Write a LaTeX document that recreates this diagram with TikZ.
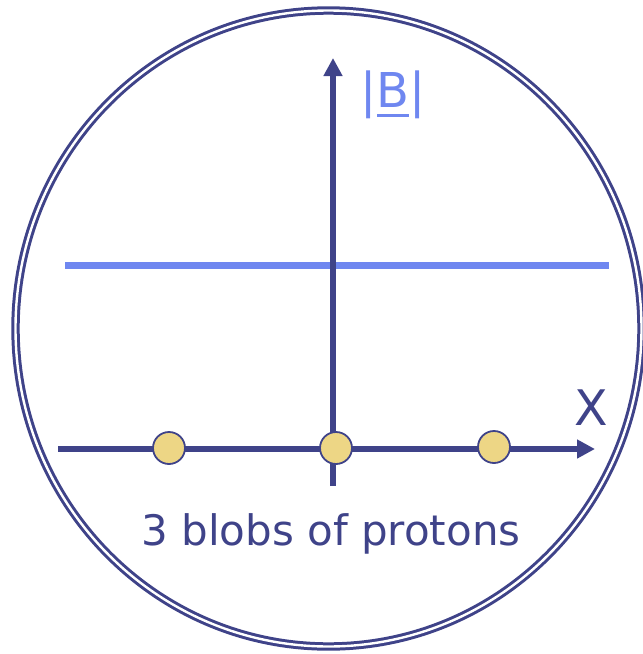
\documentclass[tikz,border=0pt]{standalone}
\usepackage{fontspec}
\setmainfont{DejaVu Sans}
\usetikzlibrary{arrows.meta}
\definecolor{axisblue}{HTML}{3F4389}
\definecolor{fieldblue}{HTML}{6F87F0}
\definecolor{blobyellow}{HTML}{EDD685}
\tikzset{
  axis/.style={line width=5.5pt,color=axisblue,-{Triangle[length=18pt,width=18pt]}},
  blob/.style={circle,draw=axisblue,line width=1.8pt,fill=blobyellow,minimum size=32pt,inner sep=0pt},
}
\begin{document}
\begin{tikzpicture}[x=1pt,y=-1pt]
\useasboundingbox (0,0) rectangle (643,654);
\clip (0,0) rectangle (643,654);
% outer ring
\draw[axisblue,line width=3pt,double=white,double distance=2.4pt] (328.5,328.5) ellipse [x radius=313,y radius=318];
% field level
\draw[fieldblue,line width=7pt] (65,265) -- (609,265);
% axes
\coordinate (xstart) at (58,449);
\coordinate (xend) at (595,449);
\coordinate (ystart) at (333,486);
\coordinate (yend) at (333,58);
\draw[axis] (xstart) -- (xend);
\draw[axis] (ystart) -- (yend);
% blobs
\node[blob] (b1) at (169,448) {};
\node[blob] (b2) at (336,448) {};
\node[blob] (b3) at (494,447) {};
% labels
\node[text=fieldblue,font=\fontsize{48}{48}\selectfont,inner sep=0pt] (blabel) at (393,95) {|B|};
\draw[fieldblue,line width=3pt] (377,115) -- (409,115);
\node[text=axisblue,font=\fontsize{49}{49}\selectfont,inner sep=0pt] (xlabel) at (591,408) {X};
\node[text=axisblue,font=\fontsize{42}{42}\selectfont,inner sep=0pt,anchor=base] (caption) at (331,545) {3 blobs of protons};
\end{tikzpicture}
\end{document}
